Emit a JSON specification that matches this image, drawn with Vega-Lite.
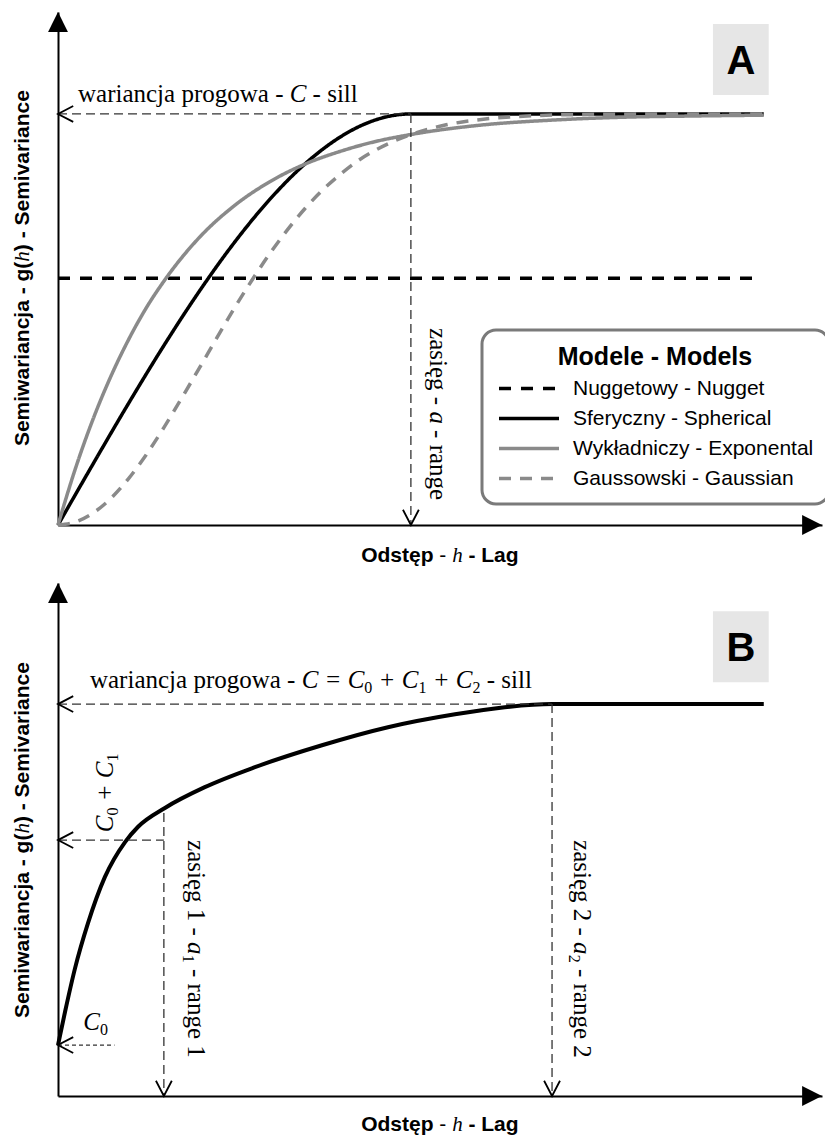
{
  "$schema": "https://vega.github.io/schema/vega-lite/v6.json",
  "background": "white",
  "padding": {"left": 12, "top": 12, "right": 0, "bottom": 0},
  "bounds": "flush",
  "spacing": 58,
  "config": {
    "view": {"stroke": null},
    "font": "Liberation Sans",
    "axis": {"domain": true, "domainColor": "black", "domainWidth": 2, "labels": false, "ticks": false, "grid": false},
    "legend": {"strokeWidth": 3}
  },
  "vconcat": [
    {
      "width": 764,
      "height": 513,
      "layer": [
        {
          "data": {"values": [
            {"model": "Nuggetowy - Nugget", "h": 0, "g": 0.6},
            {"model": "Nuggetowy - Nugget", "h": 19.75, "g": 0.6},
            {"model": "Sferyczny - Spherical", "h": 0, "g": 0},
            {"model": "Sferyczny - Spherical", "h": 1, "g": 0.1495},
            {"model": "Sferyczny - Spherical", "h": 2, "g": 0.296},
            {"model": "Sferyczny - Spherical", "h": 3, "g": 0.4365},
            {"model": "Sferyczny - Spherical", "h": 4, "g": 0.568},
            {"model": "Sferyczny - Spherical", "h": 5, "g": 0.6875},
            {"model": "Sferyczny - Spherical", "h": 6, "g": 0.792},
            {"model": "Sferyczny - Spherical", "h": 7, "g": 0.8785},
            {"model": "Sferyczny - Spherical", "h": 7.5, "g": 0.914},
            {"model": "Sferyczny - Spherical", "h": 8, "g": 0.944},
            {"model": "Sferyczny - Spherical", "h": 8.5, "g": 0.968},
            {"model": "Sferyczny - Spherical", "h": 9, "g": 0.9855},
            {"model": "Sferyczny - Spherical", "h": 9.5, "g": 0.9963},
            {"model": "Sferyczny - Spherical", "h": 10, "g": 1},
            {"model": "Sferyczny - Spherical", "h": 20, "g": 1},
            {"model": "Wykładniczy - Exponental", "h": 0, "g": 0},
            {"model": "Wykładniczy - Exponental", "h": 0.5, "g": 0.139},
            {"model": "Wykładniczy - Exponental", "h": 1, "g": 0.259},
            {"model": "Wykładniczy - Exponental", "h": 1.5, "g": 0.362},
            {"model": "Wykładniczy - Exponental", "h": 2, "g": 0.451},
            {"model": "Wykładniczy - Exponental", "h": 2.5, "g": 0.528},
            {"model": "Wykładniczy - Exponental", "h": 3, "g": 0.593},
            {"model": "Wykładniczy - Exponental", "h": 4, "g": 0.699},
            {"model": "Wykładniczy - Exponental", "h": 5, "g": 0.777},
            {"model": "Wykładniczy - Exponental", "h": 6, "g": 0.835},
            {"model": "Wykładniczy - Exponental", "h": 7, "g": 0.878},
            {"model": "Wykładniczy - Exponental", "h": 8, "g": 0.909},
            {"model": "Wykładniczy - Exponental", "h": 9, "g": 0.933},
            {"model": "Wykładniczy - Exponental", "h": 10, "g": 0.95},
            {"model": "Wykładniczy - Exponental", "h": 12, "g": 0.973},
            {"model": "Wykładniczy - Exponental", "h": 14, "g": 0.985},
            {"model": "Wykładniczy - Exponental", "h": 16, "g": 0.992},
            {"model": "Wykładniczy - Exponental", "h": 18, "g": 0.995},
            {"model": "Wykładniczy - Exponental", "h": 20, "g": 0.997},
            {"model": "Gaussowski - Gaussian", "h": 0, "g": 0},
            {"model": "Gaussowski - Gaussian", "h": 0.5, "g": 0.0075},
            {"model": "Gaussowski - Gaussian", "h": 1, "g": 0.0296},
            {"model": "Gaussowski - Gaussian", "h": 1.5, "g": 0.065},
            {"model": "Gaussowski - Gaussian", "h": 2, "g": 0.113},
            {"model": "Gaussowski - Gaussian", "h": 2.5, "g": 0.171},
            {"model": "Gaussowski - Gaussian", "h": 3, "g": 0.237},
            {"model": "Gaussowski - Gaussian", "h": 3.5, "g": 0.308},
            {"model": "Gaussowski - Gaussian", "h": 4, "g": 0.381},
            {"model": "Gaussowski - Gaussian", "h": 4.5, "g": 0.455},
            {"model": "Gaussowski - Gaussian", "h": 5, "g": 0.528},
            {"model": "Gaussowski - Gaussian", "h": 5.5, "g": 0.596},
            {"model": "Gaussowski - Gaussian", "h": 6, "g": 0.66},
            {"model": "Gaussowski - Gaussian", "h": 6.5, "g": 0.718},
            {"model": "Gaussowski - Gaussian", "h": 7, "g": 0.77},
            {"model": "Gaussowski - Gaussian", "h": 7.5, "g": 0.815},
            {"model": "Gaussowski - Gaussian", "h": 8, "g": 0.853},
            {"model": "Gaussowski - Gaussian", "h": 8.5, "g": 0.886},
            {"model": "Gaussowski - Gaussian", "h": 9, "g": 0.912},
            {"model": "Gaussowski - Gaussian", "h": 9.5, "g": 0.933},
            {"model": "Gaussowski - Gaussian", "h": 10, "g": 0.95},
            {"model": "Gaussowski - Gaussian", "h": 11, "g": 0.9735},
            {"model": "Gaussowski - Gaussian", "h": 12, "g": 0.9867},
            {"model": "Gaussowski - Gaussian", "h": 13, "g": 0.9937},
            {"model": "Gaussowski - Gaussian", "h": 14, "g": 0.9972},
            {"model": "Gaussowski - Gaussian", "h": 16, "g": 0.9995},
            {"model": "Gaussowski - Gaussian", "h": 20, "g": 1}
          ]},
          "mark": {"type": "line", "interpolate": "monotone", "strokeWidth": 3.5, "strokeCap": "butt"},
          "encoding": {
            "x": {"field": "h", "type": "quantitative", "title": null, "scale": {"domain": [0, 21.65], "nice": false, "zero": false}},
            "y": {"field": "g", "type": "quantitative", "title": null, "scale": {"domain": [0, 1.248], "nice": false, "zero": false}},
            "color": {"field": "model", "type": "nominal", "title": "Modele - Models",
                      "scale": {"domain": ["Nuggetowy - Nugget", "Sferyczny - Spherical", "Wykładniczy - Exponental", "Gaussowski - Gaussian"],
                                "range": ["#000000", "#000000", "#8a8a8a", "#8a8a8a"]},
                      "legend": {"orient": "none", "legendX": 424, "legendY": 318, "padding": 15, "cornerRadius": 14, "strokeColor": "#7a7a7a", "fillColor": "white",
                                 "titleAnchor": "middle", "titleFontSize": 25, "titleFont": "Liberation Sans", "titleFontWeight": "bold", "titleColor": "black", "titlePadding": 8, "titleLimit": 400,
                                 "labelFont": "Liberation Sans", "labelFontSize": 21, "labelColor": "black", "labelOffset": 12, "labelLimit": 400, "rowPadding": 8, "clipHeight": 21,
                                 "symbolType": "stroke", "symbolSize": 3600, "symbolStrokeWidth": 3.5}},
            "strokeDash": {"field": "model", "type": "nominal", "title": "Modele - Models",
                           "scale": {"domain": ["Nuggetowy - Nugget", "Sferyczny - Spherical", "Wykładniczy - Exponental", "Gaussowski - Gaussian"],
                                     "range": [[12, 10], [1, 0], [1, 0], [12, 9]]},
                           "legend": {"orient": "none", "legendX": 424, "legendY": 318, "padding": 15, "cornerRadius": 14, "strokeColor": "#7a7a7a", "fillColor": "white",
                                      "titleAnchor": "middle", "titleFontSize": 25, "titleFont": "Liberation Sans", "titleFontWeight": "bold", "titleColor": "black", "titlePadding": 8, "titleLimit": 400,
                                      "labelFont": "Liberation Sans", "labelFontSize": 21, "labelColor": "black", "labelOffset": 12, "labelLimit": 400, "rowPadding": 8, "clipHeight": 21,
                                      "symbolType": "stroke", "symbolSize": 3600, "symbolStrokeWidth": 3.5}}
          }
        },
        {
          "data": {"values": [
            {"h": 0, "h2": 10, "g": 1, "g2": 1},
            {"h": 10, "h2": 10, "g": 1, "g2": 0}
          ]},
          "mark": {"type": "rule", "strokeDash": [9, 5], "strokeWidth": 1.3, "color": "#333333"},
          "encoding": {
            "x": {"field": "h", "type": "quantitative", "title": null}, "x2": {"field": "h2"},
            "y": {"field": "g", "type": "quantitative", "title": null}, "y2": {"field": "g2"}
          }
        },
        {
          "data": {"values": [{"h": 0, "g": 1}]},
          "mark": {"type": "point", "shape": "M 1.15 -0.6 L 0 0 L 1.15 0.6", "size": 700, "filled": false, "stroke": "black", "strokeWidth": 1.8, "opacity": 1},
          "encoding": {"x": {"field": "h", "type": "quantitative", "title": null}, "y": {"field": "g", "type": "quantitative", "title": null}}
        },
        {
          "data": {"values": [{"h": 10, "g": 0}]},
          "mark": {"type": "point", "shape": "M -0.6 -1.15 L 0 0 L 0.6 -1.15", "size": 700, "filled": false, "stroke": "black", "strokeWidth": 1.8, "opacity": 1},
          "encoding": {"x": {"field": "h", "type": "quantitative", "title": null}, "y": {"field": "g", "type": "quantitative", "title": null}}
        },
        {
          "data": {"values": [{"h": 0, "g": 1.248}]},
          "mark": {"type": "point", "shape": "M 0 0 L 0.6 1.2 L -0.6 1.2 Z", "size": 1100, "filled": true, "color": "black", "opacity": 1},
          "encoding": {"x": {"field": "h", "type": "quantitative", "title": null}, "y": {"field": "g", "type": "quantitative", "title": null}}
        },
        {
          "data": {"values": [{"h": 21.65, "g": 0}]},
          "mark": {"type": "point", "shape": "M 0 0 L -1.2 -0.6 L -1.2 0.6 Z", "size": 1100, "filled": true, "color": "black", "opacity": 1},
          "encoding": {"x": {"field": "h", "type": "quantitative", "title": null}, "y": {"field": "g", "type": "quantitative", "title": null}}
        },
        {
          "data": {"values": [{"h": 18.56, "h2": 20.14, "g": 1.046, "g2": 1.219}]},
          "mark": {"type": "rect", "color": "#e6e6e6"},
          "encoding": {
            "x": {"field": "h", "type": "quantitative", "title": null}, "x2": {"field": "h2"},
            "y": {"field": "g", "type": "quantitative", "title": null}, "y2": {"field": "g2"}
          }
        },
        {
          "data": {"values": [{"h": 19.35, "g": 1.126, "t": "A"}]},
          "mark": {"type": "text", "font": "Liberation Sans", "fontWeight": "bold", "fontSize": 40, "align": "center", "baseline": "middle", "color": "black"},
          "encoding": {"x": {"field": "h", "type": "quantitative", "title": null}, "y": {"field": "g", "type": "quantitative", "title": null}, "text": {"field": "t"}}
        },
        {
          "data": {"values": [{"h": 0.567, "g": 1.029, "t": "wariancja progowa -"}]},
          "mark": {"type": "text", "font": "Liberation Serif", "fontSize": 25, "align": "left", "baseline": "alphabetic", "color": "black"},
          "encoding": {"x": {"field": "h", "type": "quantitative", "title": null}, "y": {"field": "g", "type": "quantitative", "title": null}, "text": {"field": "t"}}
        },
        {
          "data": {"values": [{"h": 0.567, "g": 1.029, "t": "C"}]},
          "mark": {"type": "text", "font": "Liberation Serif", "fontStyle": "italic", "fontSize": 25, "align": "left", "baseline": "alphabetic", "color": "black", "dx": 211.7},
          "encoding": {"x": {"field": "h", "type": "quantitative", "title": null}, "y": {"field": "g", "type": "quantitative", "title": null}, "text": {"field": "t"}}
        },
        {
          "data": {"values": [{"h": 0.567, "g": 1.029, "t": "- sill"}]},
          "mark": {"type": "text", "font": "Liberation Serif", "fontSize": 25, "align": "left", "baseline": "alphabetic", "color": "black", "dx": 234.6},
          "encoding": {"x": {"field": "h", "type": "quantitative", "title": null}, "y": {"field": "g", "type": "quantitative", "title": null}, "text": {"field": "t"}}
        },
        {
          "data": {"values": [{"h": 10.55, "g": 0.479, "t": "zasięg -"}]},
          "mark": {"type": "text", "font": "Liberation Serif", "fontSize": 25, "align": "left", "baseline": "alphabetic", "color": "black", "angle": 90},
          "encoding": {"x": {"field": "h", "type": "quantitative", "title": null}, "y": {"field": "g", "type": "quantitative", "title": null}, "text": {"field": "t"}}
        },
        {
          "data": {"values": [{"h": 10.55, "g": 0.479, "t": "a"}]},
          "mark": {"type": "text", "font": "Liberation Serif", "fontStyle": "italic", "fontSize": 25, "align": "left", "baseline": "alphabetic", "color": "black", "angle": 90, "dx": 83.3},
          "encoding": {"x": {"field": "h", "type": "quantitative", "title": null}, "y": {"field": "g", "type": "quantitative", "title": null}, "text": {"field": "t"}}
        },
        {
          "data": {"values": [{"h": 10.55, "g": 0.479, "t": "- range"}]},
          "mark": {"type": "text", "font": "Liberation Serif", "fontSize": 25, "align": "left", "baseline": "alphabetic", "color": "black", "angle": 90, "dx": 102},
          "encoding": {"x": {"field": "h", "type": "quantitative", "title": null}, "y": {"field": "g", "type": "quantitative", "title": null}, "text": {"field": "t"}}
        },
        {
          "data": {"values": [{"h": 8.59, "g": -0.09, "t": "Odstęp"}]},
          "mark": {"type": "text", "font": "Liberation Sans", "fontWeight": "bold", "fontSize": 21, "align": "left", "baseline": "alphabetic", "color": "black"},
          "encoding": {"x": {"field": "h", "type": "quantitative", "title": null}, "y": {"field": "g", "type": "quantitative", "title": null}, "text": {"field": "t"}}
        },
        {
          "data": {"values": [{"h": 8.59, "g": -0.09, "t": "-"}]},
          "mark": {"type": "text", "font": "Liberation Sans", "fontSize": 21, "align": "left", "baseline": "alphabetic", "color": "black", "dx": 78.1},
          "encoding": {"x": {"field": "h", "type": "quantitative", "title": null}, "y": {"field": "g", "type": "quantitative", "title": null}, "text": {"field": "t"}}
        },
        {
          "data": {"values": [{"h": 8.59, "g": -0.09, "t": "h"}]},
          "mark": {"type": "text", "font": "Liberation Serif", "fontStyle": "italic", "fontSize": 21, "align": "left", "baseline": "alphabetic", "color": "black", "dx": 91},
          "encoding": {"x": {"field": "h", "type": "quantitative", "title": null}, "y": {"field": "g", "type": "quantitative", "title": null}, "text": {"field": "t"}}
        },
        {
          "data": {"values": [{"h": 8.59, "g": -0.09, "t": "- Lag"}]},
          "mark": {"type": "text", "font": "Liberation Sans", "fontWeight": "bold", "fontSize": 21, "align": "left", "baseline": "alphabetic", "color": "black", "dx": 107.3},
          "encoding": {"x": {"field": "h", "type": "quantitative", "title": null}, "y": {"field": "g", "type": "quantitative", "title": null}, "text": {"field": "t"}}
        },
        {
          "data": {"values": [{"h": -0.82, "g": 0.192, "t": "Semiwariancja - g("}]},
          "mark": {"type": "text", "font": "Liberation Sans", "fontWeight": "bold", "fontSize": 21, "align": "left", "baseline": "alphabetic", "color": "black", "angle": 270},
          "encoding": {"x": {"field": "h", "type": "quantitative", "title": null}, "y": {"field": "g", "type": "quantitative", "title": null}, "text": {"field": "t"}}
        },
        {
          "data": {"values": [{"h": -0.82, "g": 0.192, "t": "h"}]},
          "mark": {"type": "text", "font": "Liberation Serif", "fontStyle": "italic", "fontSize": 21, "align": "left", "baseline": "alphabetic", "color": "black", "angle": 270, "dx": 184.4},
          "encoding": {"x": {"field": "h", "type": "quantitative", "title": null}, "y": {"field": "g", "type": "quantitative", "title": null}, "text": {"field": "t"}}
        },
        {
          "data": {"values": [{"h": -0.82, "g": 0.192, "t": ") - Semivariance"}]},
          "mark": {"type": "text", "font": "Liberation Sans", "fontWeight": "bold", "fontSize": 21, "align": "left", "baseline": "alphabetic", "color": "black", "angle": 270, "dx": 194.9},
          "encoding": {"x": {"field": "h", "type": "quantitative", "title": null}, "y": {"field": "g", "type": "quantitative", "title": null}, "text": {"field": "t"}}
        }
      ]
    },
    {
      "width": 764,
      "height": 513,
      "layer": [
        {
          "data": {"values": [
            {"h": 0, "g": 0.13},
            {"h": 0.2, "g": 0.215},
            {"h": 0.48, "g": 0.325},
            {"h": 0.85, "g": 0.441},
            {"h": 1.33, "g": 0.559},
            {"h": 1.9, "g": 0.648},
            {"h": 2.27, "g": 0.687},
            {"h": 3.03, "g": 0.735},
            {"h": 4.16, "g": 0.788},
            {"h": 5.58, "g": 0.839},
            {"h": 7.48, "g": 0.895},
            {"h": 9.35, "g": 0.941},
            {"h": 11.25, "g": 0.974},
            {"h": 12.66, "g": 0.992},
            {"h": 14, "g": 1},
            {"h": 20, "g": 1}
          ]},
          "mark": {"type": "line", "interpolate": "monotone", "strokeWidth": 4, "color": "black", "strokeCap": "butt"},
          "encoding": {
            "x": {"field": "h", "type": "quantitative", "title": null, "scale": {"domain": [0, 21.65], "nice": false, "zero": false}},
            "y": {"field": "g", "type": "quantitative", "title": null, "scale": {"domain": [0, 1.309], "nice": false, "zero": false}}
          }
        },
        {
          "data": {"values": [
            {"h": 0, "h2": 14, "g": 1, "g2": 1},
            {"h": 0, "h2": 3, "g": 0.653, "g2": 0.653},
            {"h": 3, "h2": 3, "g": 0.722, "g2": 0},
            {"h": 14, "h2": 14, "g": 1, "g2": 0}
          ]},
          "mark": {"type": "rule", "strokeDash": [9, 5], "strokeWidth": 1.3, "color": "#333333"},
          "encoding": {
            "x": {"field": "h", "type": "quantitative", "title": null}, "x2": {"field": "h2"},
            "y": {"field": "g", "type": "quantitative", "title": null}, "y2": {"field": "g2"}
          }
        },
        {
          "data": {"values": [{"h": 0, "h2": 1.6, "g": 0.13, "g2": 0.13}]},
          "mark": {"type": "rule", "strokeDash": [4, 3], "strokeWidth": 1.2, "color": "#333333"},
          "encoding": {
            "x": {"field": "h", "type": "quantitative", "title": null}, "x2": {"field": "h2"},
            "y": {"field": "g", "type": "quantitative", "title": null}, "y2": {"field": "g2"}
          }
        },
        {
          "data": {"values": [{"h": 0, "g": 1}, {"h": 0, "g": 0.653}, {"h": 0, "g": 0.13}]},
          "mark": {"type": "point", "shape": "M 1.15 -0.6 L 0 0 L 1.15 0.6", "size": 700, "filled": false, "stroke": "black", "strokeWidth": 1.8, "opacity": 1},
          "encoding": {"x": {"field": "h", "type": "quantitative", "title": null}, "y": {"field": "g", "type": "quantitative", "title": null}}
        },
        {
          "data": {"values": [{"h": 3, "g": 0}, {"h": 14, "g": 0}]},
          "mark": {"type": "point", "shape": "M -0.6 -1.15 L 0 0 L 0.6 -1.15", "size": 700, "filled": false, "stroke": "black", "strokeWidth": 1.8, "opacity": 1},
          "encoding": {"x": {"field": "h", "type": "quantitative", "title": null}, "y": {"field": "g", "type": "quantitative", "title": null}}
        },
        {
          "data": {"values": [{"h": 0, "g": 1.309}]},
          "mark": {"type": "point", "shape": "M 0 0 L 0.6 1.2 L -0.6 1.2 Z", "size": 1100, "filled": true, "color": "black", "opacity": 1},
          "encoding": {"x": {"field": "h", "type": "quantitative", "title": null}, "y": {"field": "g", "type": "quantitative", "title": null}}
        },
        {
          "data": {"values": [{"h": 21.65, "g": 0}]},
          "mark": {"type": "point", "shape": "M 0 0 L -1.2 -0.6 L -1.2 0.6 Z", "size": 1100, "filled": true, "color": "black", "opacity": 1},
          "encoding": {"x": {"field": "h", "type": "quantitative", "title": null}, "y": {"field": "g", "type": "quantitative", "title": null}}
        },
        {
          "data": {"values": [{"h": 18.56, "h2": 20.14, "g": 1.056, "g2": 1.237}]},
          "mark": {"type": "rect", "color": "#e6e6e6"},
          "encoding": {
            "x": {"field": "h", "type": "quantitative", "title": null}, "x2": {"field": "h2"},
            "y": {"field": "g", "type": "quantitative", "title": null}, "y2": {"field": "g2"}
          }
        },
        {
          "data": {"values": [{"h": 19.35, "g": 1.14, "t": "B"}]},
          "mark": {"type": "text", "font": "Liberation Sans", "fontWeight": "bold", "fontSize": 40, "align": "center", "baseline": "middle", "color": "black"},
          "encoding": {"x": {"field": "h", "type": "quantitative", "title": null}, "y": {"field": "g", "type": "quantitative", "title": null}, "text": {"field": "t"}}
        },
        {
          "data": {"values": [{"h": 0.906, "g": 1.041, "t": "wariancja progowa -"}]},
          "mark": {"type": "text", "font": "Liberation Serif", "fontSize": 25, "align": "left", "baseline": "alphabetic", "color": "black"},
          "encoding": {"x": {"field": "h", "type": "quantitative", "title": null}, "y": {"field": "g", "type": "quantitative", "title": null}, "text": {"field": "t"}}
        },
        {
          "data": {"values": [{"h": 0.906, "g": 1.041, "t": "C = C"}]},
          "mark": {"type": "text", "font": "Liberation Serif", "fontStyle": "italic", "fontSize": 25, "align": "left", "baseline": "alphabetic", "color": "black", "dx": 211.7},
          "encoding": {"x": {"field": "h", "type": "quantitative", "title": null}, "y": {"field": "g", "type": "quantitative", "title": null}, "text": {"field": "t"}}
        },
        {
          "data": {"values": [{"h": 0.906, "g": 1.041, "t": "0"}]},
          "mark": {"type": "text", "font": "Liberation Serif", "fontSize": 16, "align": "left", "baseline": "alphabetic", "color": "black", "dx": 274.4, "dy": 5},
          "encoding": {"x": {"field": "h", "type": "quantitative", "title": null}, "y": {"field": "g", "type": "quantitative", "title": null}, "text": {"field": "t"}}
        },
        {
          "data": {"values": [{"h": 0.906, "g": 1.041, "t": "+ C"}]},
          "mark": {"type": "text", "font": "Liberation Serif", "fontStyle": "italic", "fontSize": 25, "align": "left", "baseline": "alphabetic", "color": "black", "dx": 288.6},
          "encoding": {"x": {"field": "h", "type": "quantitative", "title": null}, "y": {"field": "g", "type": "quantitative", "title": null}, "text": {"field": "t"}}
        },
        {
          "data": {"values": [{"h": 0.906, "g": 1.041, "t": "1"}]},
          "mark": {"type": "text", "font": "Liberation Serif", "fontSize": 16, "align": "left", "baseline": "alphabetic", "color": "black", "dx": 328.5, "dy": 5},
          "encoding": {"x": {"field": "h", "type": "quantitative", "title": null}, "y": {"field": "g", "type": "quantitative", "title": null}, "text": {"field": "t"}}
        },
        {
          "data": {"values": [{"h": 0.906, "g": 1.041, "t": "+ C"}]},
          "mark": {"type": "text", "font": "Liberation Serif", "fontStyle": "italic", "fontSize": 25, "align": "left", "baseline": "alphabetic", "color": "black", "dx": 342.7},
          "encoding": {"x": {"field": "h", "type": "quantitative", "title": null}, "y": {"field": "g", "type": "quantitative", "title": null}, "text": {"field": "t"}}
        },
        {
          "data": {"values": [{"h": 0.906, "g": 1.041, "t": "2"}]},
          "mark": {"type": "text", "font": "Liberation Serif", "fontSize": 16, "align": "left", "baseline": "alphabetic", "color": "black", "dx": 382.5, "dy": 5},
          "encoding": {"x": {"field": "h", "type": "quantitative", "title": null}, "y": {"field": "g", "type": "quantitative", "title": null}, "text": {"field": "t"}}
        },
        {
          "data": {"values": [{"h": 0.906, "g": 1.041, "t": "- sill"}]},
          "mark": {"type": "text", "font": "Liberation Serif", "fontSize": 25, "align": "left", "baseline": "alphabetic", "color": "black", "dx": 396.8},
          "encoding": {"x": {"field": "h", "type": "quantitative", "title": null}, "y": {"field": "g", "type": "quantitative", "title": null}, "text": {"field": "t"}}
        },
        {
          "data": {"values": [{"h": 1.56, "g": 0.673, "t": "C"}]},
          "mark": {"type": "text", "font": "Liberation Serif", "fontStyle": "italic", "fontSize": 25, "align": "left", "baseline": "alphabetic", "color": "black", "angle": 270},
          "encoding": {"x": {"field": "h", "type": "quantitative", "title": null}, "y": {"field": "g", "type": "quantitative", "title": null}, "text": {"field": "t"}}
        },
        {
          "data": {"values": [{"h": 1.56, "g": 0.673, "t": "0"}]},
          "mark": {"type": "text", "font": "Liberation Serif", "fontSize": 16, "align": "left", "baseline": "alphabetic", "color": "black", "angle": 270, "dx": 16.7, "dy": 5},
          "encoding": {"x": {"field": "h", "type": "quantitative", "title": null}, "y": {"field": "g", "type": "quantitative", "title": null}, "text": {"field": "t"}}
        },
        {
          "data": {"values": [{"h": 1.56, "g": 0.673, "t": "+ C"}]},
          "mark": {"type": "text", "font": "Liberation Serif", "fontStyle": "italic", "fontSize": 25, "align": "left", "baseline": "alphabetic", "color": "black", "angle": 270, "dx": 31},
          "encoding": {"x": {"field": "h", "type": "quantitative", "title": null}, "y": {"field": "g", "type": "quantitative", "title": null}, "text": {"field": "t"}}
        },
        {
          "data": {"values": [{"h": 1.56, "g": 0.673, "t": "1"}]},
          "mark": {"type": "text", "font": "Liberation Serif", "fontSize": 16, "align": "left", "baseline": "alphabetic", "color": "black", "angle": 270, "dx": 70.8, "dy": 5},
          "encoding": {"x": {"field": "h", "type": "quantitative", "title": null}, "y": {"field": "g", "type": "quantitative", "title": null}, "text": {"field": "t"}}
        },
        {
          "data": {"values": [{"h": 0.717, "g": 0.168, "t": "C"}]},
          "mark": {"type": "text", "font": "Liberation Serif", "fontStyle": "italic", "fontSize": 25, "align": "left", "baseline": "alphabetic", "color": "black"},
          "encoding": {"x": {"field": "h", "type": "quantitative", "title": null}, "y": {"field": "g", "type": "quantitative", "title": null}, "text": {"field": "t"}}
        },
        {
          "data": {"values": [{"h": 0.717, "g": 0.168, "t": "0"}]},
          "mark": {"type": "text", "font": "Liberation Serif", "fontSize": 16, "align": "left", "baseline": "alphabetic", "color": "black", "dx": 16.7, "dy": 5},
          "encoding": {"x": {"field": "h", "type": "quantitative", "title": null}, "y": {"field": "g", "type": "quantitative", "title": null}, "text": {"field": "t"}}
        },
        {
          "data": {"values": [{"h": 3.68, "g": 0.653, "t": "zasięg 1 -"}, {"h": 14.62, "g": 0.653, "t": "zasięg 2 -"}]},
          "mark": {"type": "text", "font": "Liberation Serif", "fontSize": 25, "align": "left", "baseline": "alphabetic", "color": "black", "angle": 90},
          "encoding": {"x": {"field": "h", "type": "quantitative", "title": null}, "y": {"field": "g", "type": "quantitative", "title": null}, "text": {"field": "t"}}
        },
        {
          "data": {"values": [{"h": 3.68, "g": 0.653, "t": "a"}, {"h": 14.62, "g": 0.653, "t": "a"}]},
          "mark": {"type": "text", "font": "Liberation Serif", "fontStyle": "italic", "fontSize": 25, "align": "left", "baseline": "alphabetic", "color": "black", "angle": 90, "dx": 102},
          "encoding": {"x": {"field": "h", "type": "quantitative", "title": null}, "y": {"field": "g", "type": "quantitative", "title": null}, "text": {"field": "t"}}
        },
        {
          "data": {"values": [{"h": 3.68, "g": 0.653, "t": "1"}, {"h": 14.62, "g": 0.653, "t": "2"}]},
          "mark": {"type": "text", "font": "Liberation Serif", "fontSize": 16, "align": "left", "baseline": "alphabetic", "color": "black", "angle": 90, "dx": 114.6, "dy": 5},
          "encoding": {"x": {"field": "h", "type": "quantitative", "title": null}, "y": {"field": "g", "type": "quantitative", "title": null}, "text": {"field": "t"}}
        },
        {
          "data": {"values": [{"h": 3.68, "g": 0.653, "t": "- range 1"}, {"h": 14.62, "g": 0.653, "t": "- range 2"}]},
          "mark": {"type": "text", "font": "Liberation Serif", "fontSize": 25, "align": "left", "baseline": "alphabetic", "color": "black", "angle": 90, "dx": 128.8},
          "encoding": {"x": {"field": "h", "type": "quantitative", "title": null}, "y": {"field": "g", "type": "quantitative", "title": null}, "text": {"field": "t"}}
        },
        {
          "data": {"values": [{"h": 8.59, "g": -0.089, "t": "Odstęp"}]},
          "mark": {"type": "text", "font": "Liberation Sans", "fontWeight": "bold", "fontSize": 21, "align": "left", "baseline": "alphabetic", "color": "black"},
          "encoding": {"x": {"field": "h", "type": "quantitative", "title": null}, "y": {"field": "g", "type": "quantitative", "title": null}, "text": {"field": "t"}}
        },
        {
          "data": {"values": [{"h": 8.59, "g": -0.089, "t": "-"}]},
          "mark": {"type": "text", "font": "Liberation Sans", "fontSize": 21, "align": "left", "baseline": "alphabetic", "color": "black", "dx": 78.1},
          "encoding": {"x": {"field": "h", "type": "quantitative", "title": null}, "y": {"field": "g", "type": "quantitative", "title": null}, "text": {"field": "t"}}
        },
        {
          "data": {"values": [{"h": 8.59, "g": -0.089, "t": "h"}]},
          "mark": {"type": "text", "font": "Liberation Serif", "fontStyle": "italic", "fontSize": 21, "align": "left", "baseline": "alphabetic", "color": "black", "dx": 91},
          "encoding": {"x": {"field": "h", "type": "quantitative", "title": null}, "y": {"field": "g", "type": "quantitative", "title": null}, "text": {"field": "t"}}
        },
        {
          "data": {"values": [{"h": 8.59, "g": -0.089, "t": "- Lag"}]},
          "mark": {"type": "text", "font": "Liberation Sans", "fontWeight": "bold", "fontSize": 21, "align": "left", "baseline": "alphabetic", "color": "black", "dx": 107.3},
          "encoding": {"x": {"field": "h", "type": "quantitative", "title": null}, "y": {"field": "g", "type": "quantitative", "title": null}, "text": {"field": "t"}}
        },
        {
          "data": {"values": [{"h": -0.82, "g": 0.199, "t": "Semiwariancja - g("}]},
          "mark": {"type": "text", "font": "Liberation Sans", "fontWeight": "bold", "fontSize": 21, "align": "left", "baseline": "alphabetic", "color": "black", "angle": 270},
          "encoding": {"x": {"field": "h", "type": "quantitative", "title": null}, "y": {"field": "g", "type": "quantitative", "title": null}, "text": {"field": "t"}}
        },
        {
          "data": {"values": [{"h": -0.82, "g": 0.199, "t": "h"}]},
          "mark": {"type": "text", "font": "Liberation Serif", "fontStyle": "italic", "fontSize": 21, "align": "left", "baseline": "alphabetic", "color": "black", "angle": 270, "dx": 184.4},
          "encoding": {"x": {"field": "h", "type": "quantitative", "title": null}, "y": {"field": "g", "type": "quantitative", "title": null}, "text": {"field": "t"}}
        },
        {
          "data": {"values": [{"h": -0.82, "g": 0.199, "t": ") - Semivariance"}]},
          "mark": {"type": "text", "font": "Liberation Sans", "fontWeight": "bold", "fontSize": 21, "align": "left", "baseline": "alphabetic", "color": "black", "angle": 270, "dx": 194.9},
          "encoding": {"x": {"field": "h", "type": "quantitative", "title": null}, "y": {"field": "g", "type": "quantitative", "title": null}, "text": {"field": "t"}}
        }
      ]
    }
  ]
}
